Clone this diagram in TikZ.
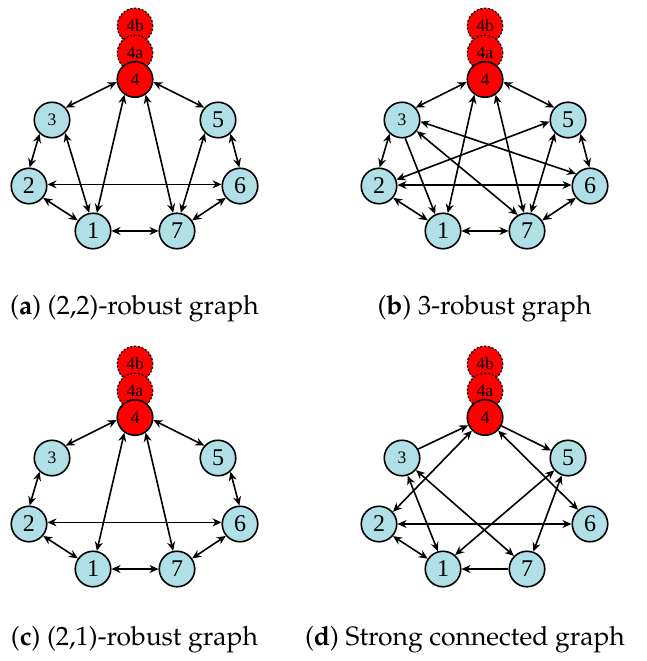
\documentclass[tikz,border=0pt]{standalone}
\usepackage[T1]{fontenc}
\usepackage{fontspec}
\setmainfont{Liberation Serif}
\usetikzlibrary{arrows.meta}
\definecolor{lblue}{RGB}{176,224,230}
\newcommand\capfont{\fontencoding{T1}\fontfamily{ppl}\selectfont}
\newcommand\gnodes[3]{%
\begin{scope}[shift={(#2,#3)}]
 \node[ghost] (#14b) at (135,26) {4b};
 \node[ghost] (#14a) at (135,53) {4a};
 \node[red4] (#14) at (135,79.5) {4};
 \node[vsm] (#13) at (52,120) {3};
 \node[vtx] (#15) at (218,120) {5};
 \node[vtx] (#12) at (29,186) {2};
 \node[vtx] (#16) at (240,186) {6};
 \node[vtx] (#11) at (93,231) {1};
 \node[vtx] (#17) at (177,231) {7};
\end{scope}}
\begin{document}
\begin{tikzpicture}[x=1pt,y=-1pt,
  vtx/.style={circle,draw,line width=1.6pt,fill=lblue,minimum size=35.5pt,inner sep=0pt,font=\fontsize{24}{24}\selectfont},
  vsm/.style={vtx,font=\fontsize{17.5}{17.5}\selectfont},
  red4/.style={vsm,fill=red},
  ghost/.style={red4,dash pattern=on 2.2pt off 1.6pt,line width=1.2pt},
  bidir/.style={line width=1.6pt,{Stealth[length=9pt,width=8pt]}-{Stealth[length=9pt,width=8pt]}},
  oneway/.style={line width=1.6pt,-{Stealth[length=9pt,width=8pt]}},
  captxt/.style={font=\capfont\fontsize{26.5}{26.5}\selectfont,anchor=base,inner sep=0pt}]
\fill[white] (0,0) rectangle (646,661);
\useasboundingbox (0,0) rectangle (646,661);
\gnodes{A}{0}{0}
\gnodes{B}{350}{0}
\gnodes{C}{0}{338}
\gnodes{D}{350}{338}
% panel a
\draw[bidir] (A4.188) -- (A3.42);
\draw[bidir] (A4.-8) -- (A5.138);
\draw[bidir] (A4.235) -- (A1.78);
\draw[bidir] (A4.305) -- (A7.102);
\draw[bidir] (A3.228) -- (A2.88);
\draw[bidir] (A5.312) -- (A6.92);
\draw[bidir] (A3.-45) -- (A1.102);
\draw[bidir] (A5.225) -- (A7.78);
\draw[bidir] (A2.5) -- (A6.175);
\draw[bidir] (A2.-40) -- (A1.145);
\draw[bidir] (A7.35) -- (A6.220);
\draw[bidir] (A1.0) -- (A7.180);
% panel b
\draw[bidir] (B4.188) -- (B3.42);
\draw[bidir] (B4.-8) -- (B5.138);
\draw[bidir] (B4.235) -- (B1.75);
\draw[bidir] (B4.305) -- (B7.100);
\draw[bidir] (B3.228) -- (B2.88);
\draw[bidir] (B5.312) -- (B6.92);
\draw[oneway] (B3.-80) -- (B1.115);
\draw[bidir] (B5.225) -- (B7.78);
\draw[bidir] (B2.3) -- (B6.177);
\draw[bidir] (B2.-40) -- (B1.145);
\draw[bidir] (B7.35) -- (B6.220);
\draw[bidir] (B1.0) -- (B7.180);
\draw[bidir] (B3.-5) -- (B6.139);
\draw[bidir] (B3.-37) -- (B7.120);
\draw[bidir] (B2.20) -- (B5.185);
% panel c
\draw[bidir] (C4.188) -- (C3.42);
\draw[bidir] (C4.-8) -- (C5.138);
\draw[bidir] (C4.235) -- (C1.78);
\draw[bidir] (C4.305) -- (C7.102);
\draw[bidir] (C3.228) -- (C2.88);
\draw[bidir] (C5.312) -- (C6.92);
\draw[bidir] (C2.5) -- (C6.175);
\draw[bidir] (C2.-40) -- (C1.145);
\draw[bidir] (C7.35) -- (C6.220);
\draw[bidir] (C1.0) -- (C7.180);
% panel d
\draw[oneway] (D3.29) -- (D4.205);
\draw[oneway] (D4.-27) -- (D5.156);
\draw[bidir] (D4.225) -- (D2.41);
\draw[bidir] (D4.-45) -- (D6.130);
\draw[bidir] (D3.-72) -- (D1.106);
\draw[bidir] (D3.-41) -- (D7.135);
\draw[bidir] (D5.222) -- (D1.49);
\draw[bidir] (D5.250) -- (D7.70);
\draw[bidir] (D2.0) -- (D6.180);
\draw[bidir] (D2.-41) -- (D1.146);
\draw[oneway] (D7.180) -- (D1.0);
% captions
\node[captxt] (capa) at (134.5,314) {(\textbf{a}) (2,2)-robust graph};
\node[captxt] (capb) at (484.5,314) {(\textbf{b}) 3-robust graph};
\node[captxt] (capc) at (134.5,645) {(\textbf{c}) (2,1)-robust graph};
\node[captxt] (capd) at (465,645) {(\textbf{d}) Strong connected graph};
\end{tikzpicture}
\end{document}
